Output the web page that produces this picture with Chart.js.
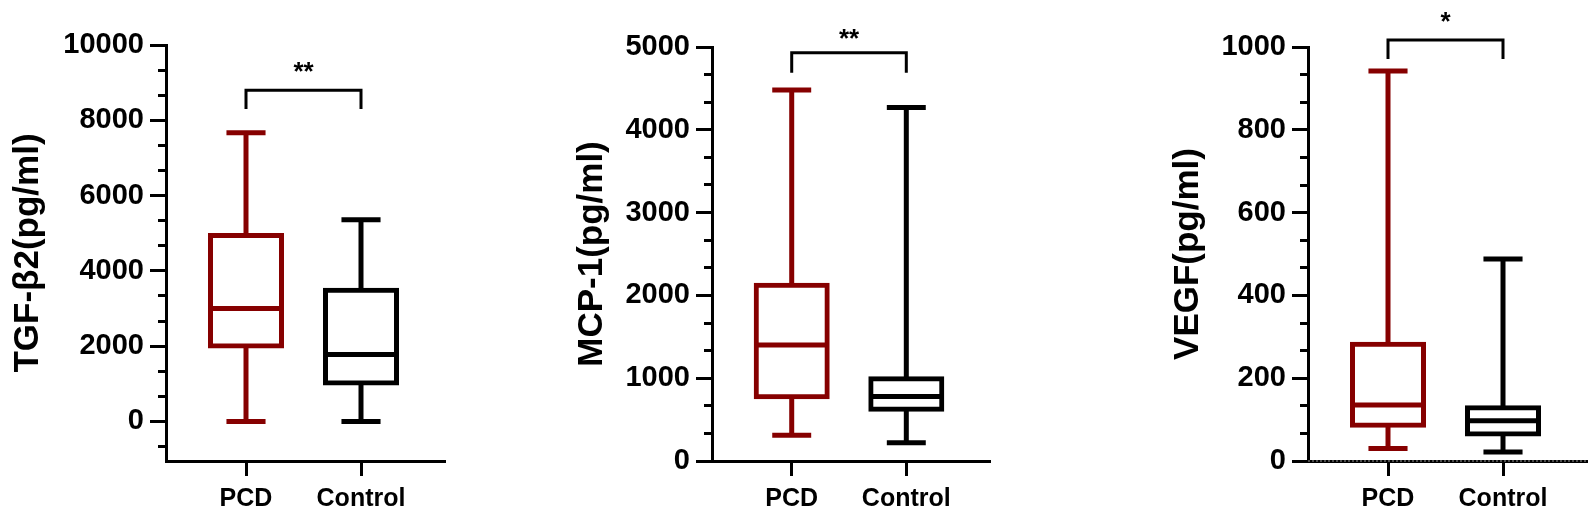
<!DOCTYPE html>
<html><head><meta charset="utf-8">
<script src="https://cdn.jsdelivr.net/npm/chart.js@4.4.1/dist/chart.umd.min.js"></script>
<style>
html,body{margin:0;padding:0;background:#fff;width:1595px;height:517px;overflow:hidden}
canvas{position:absolute;left:0;top:0}
</style></head><body>
<canvas id="c1" width="1595" height="517"></canvas>
<canvas id="c2" width="1595" height="517"></canvas>
<canvas id="c3" width="1595" height="517"></canvas>
<script>
// ---- data ----
const groups = ['PCD', 'Control'];
// five-number summaries: [min, Q1, median, Q3, max]
const tgfPCD     = [0, 1990, 3000, 4950, 7670];
const tgfControl = [0, 1010, 1780, 3500, 5360];
const mcpPCD     = [310, 770, 1400, 2130, 4480];
const mcpControl = [220, 620, 780, 1000, 4270];
const vegfPCD     = [30, 85, 135, 283, 942];
const vegfControl = [22, 64, 97, 130, 488];
const tgfTicks  = [0, 2000, 4000, 6000, 8000, 10000];
const mcpTicks  = [0, 1000, 2000, 3000, 4000, 5000];
const vegfTicks = [0, 200, 400, 600, 800, 1000];
const yTitles = ['TGF-β2(pg/ml)', 'MCP-1(pg/ml)', 'VEGF(pg/ml)'];
const sigLabels = ['**', '**', '*'];
const bracketTop  = [8800, 4930, 1017];
const bracketFoot = [8300, 4690, 971];
const sigLevel    = [9060, 5000, 1041];

// ---- style ----
const RED = '#860000', BLACK = '#000000';
const FONT = '"Liberation Sans", Arial, sans-serif';

const panels = [
  {id:'c1', pcd:tgfPCD, ctl:tgfControl, ticks:tgfTicks, yMin:-1050, yMax:10000, left:166, right:445, top:45, yw:166, i:0},
  {id:'c2', pcd:mcpPCD, ctl:mcpControl, ticks:mcpTicks, yMin:0, yMax:5000, left:712, right:990, top:47, yw:148, i:1},
  {id:'c3', pcd:vegfPCD, ctl:vegfControl, ticks:vegfTicks, yMin:0, yMax:1000, left:1308, right:1587, top:47, yw:148, i:2, zeroLine:true}
];
const X_MIN = 1 - 80/115, X_MAX = 2 + 84/115;
const CAP = 0.17, MED = 0.315;

const sigPlugin = {
  id: 'sig',
  afterDatasetsDraw(chart, args, opts) {
    const {ctx, scales: {x, y}} = chart;
    ctx.save();
    ctx.font = 'bold 26px ' + FONT;
    ctx.fillStyle = BLACK;
    ctx.textAlign = 'center';
    ctx.textBaseline = 'alphabetic';
    ctx.fillText(opts.text, x.getPixelForValue(1.5), y.getPixelForValue(opts.level));
    ctx.restore();
  }
};

function seg(points, color, width, extra) {
  return Object.assign({type:'line', data: points, borderColor: color, borderWidth: width,
    pointRadius: 0, fill: false, tension: 0, borderCapStyle: 'butt'}, extra || {});
}

function boxDatasets(s, xPos, color) {
  const [mn, q1, md, q3, mx] = s;
  return [
    seg([{x:xPos, y:q3}, {x:xPos, y:mx}], color, 5),
    seg([{x:xPos, y:mn}, {x:xPos, y:q1}], color, 5),
    seg([{x:xPos-CAP, y:mx}, {x:xPos+CAP, y:mx}], color, 5),
    seg([{x:xPos-CAP, y:mn}, {x:xPos+CAP, y:mn}], color, 5),
    seg([{x:xPos-MED, y:md}, {x:xPos+MED, y:md}], color, 5)
  ];
}

panels.forEach(p => {
  const datasets = [
    {type:'bar', data:[{x:1, y:[p.pcd[1], p.pcd[3]]}, {x:2, y:[p.ctl[1], p.ctl[3]]}],
     backgroundColor:'rgba(0,0,0,0)', borderColor:[RED, BLACK], borderWidth:1,
     borderSkipped:false, inflateAmount:2, barThickness:72},
    ...boxDatasets(p.pcd, 1, RED),
    ...boxDatasets(p.ctl, 2, BLACK),
    seg([{x:1, y:bracketFoot[p.i]}, {x:1, y:bracketTop[p.i]}, {x:2, y:bracketTop[p.i]}, {x:2, y:bracketFoot[p.i]}], BLACK, 3, {clip:false, borderJoinStyle:'miter'})
  ];
  if (p.zeroLine) {
    datasets.push(seg([{x:X_MIN, y:0}, {x:X_MAX, y:0}], '#666', 1.5, {borderDash:[2,2], clip:false}));
  }
  new Chart(document.getElementById(p.id), {
    type: 'bar',
    data: {datasets},
    plugins: [sigPlugin],
    options: {
      responsive: false, animation: false, devicePixelRatio: 1,
      layout: {padding: {left: p.left - p.yw, right: 1595 - p.right, top: p.top, bottom: 0}},
      plugins: {legend:{display:false}, tooltip:{enabled:false}, sig:{text:sigLabels[p.i], level:sigLevel[p.i]}},
      scales: {
        x: {
          type:'linear', min:X_MIN, max:X_MAX, offset:false,
          grid:{display:true, drawOnChartArea:false, offset:false, tickLength:15, tickWidth:3, tickColor:BLACK},
          border:{display:true, color:BLACK, width:3},
          afterBuildTicks: s => { s.ticks = groups.map((g, k) => ({value: k + 1})); },
          afterFit: s => { s.height = 517 - 461; },
          ticks:{autoSkip:false, maxRotation:0, padding:8, color:BLACK,
            font:{family:FONT, size:25, weight:'bold'},
            callback:(v, idx) => groups[idx]}
        },
        y: {
          type:'linear', position:'left', min:p.yMin, max:p.yMax, weight:1,
          grid:{display:true, drawOnChartArea:false, tickLength:16, tickWidth:3, tickColor:BLACK},
          border:{display:true, color:BLACK, width:3},
          afterBuildTicks: s => { s.ticks = p.ticks.map(v => ({value:v})); },
          afterFit: s => { s.width = p.yw; },
          ticks:{padding:6, color:BLACK, font:{family:FONT, size:29, weight:'bold'}, callback: v => String(v)},
          title:{display:true, text:yTitles[p.i], color:BLACK, padding:{top:7, bottom:0},
            font:{family:FONT, size:35, weight:'bold'}}
        },
        yMinor: {
          type:'linear', position:'left', min:p.yMin, max:p.yMax, weight:0,
          grid:{display:true, drawOnChartArea:false, tickLength:8, tickWidth:3, tickColor:BLACK},
          border:{display:false},
          afterBuildTicks: s => {
            const t = p.ticks, out = [];
            const step = t[1] - t[0];
            for (let k = 0; k < t.length - 1; k++) {
              out.push({value: t[k] + step/3}, {value: t[k] + 2*step/3});
            }
            if (p.yMin <= t[0] - step/3) out.push({value: t[0] - step/3});
            s.ticks = out;
          },
          afterFit: s => { s.width = 0; },
          ticks:{display:false}
        }
      }
    }
  });
});
</script>
</body></html>
